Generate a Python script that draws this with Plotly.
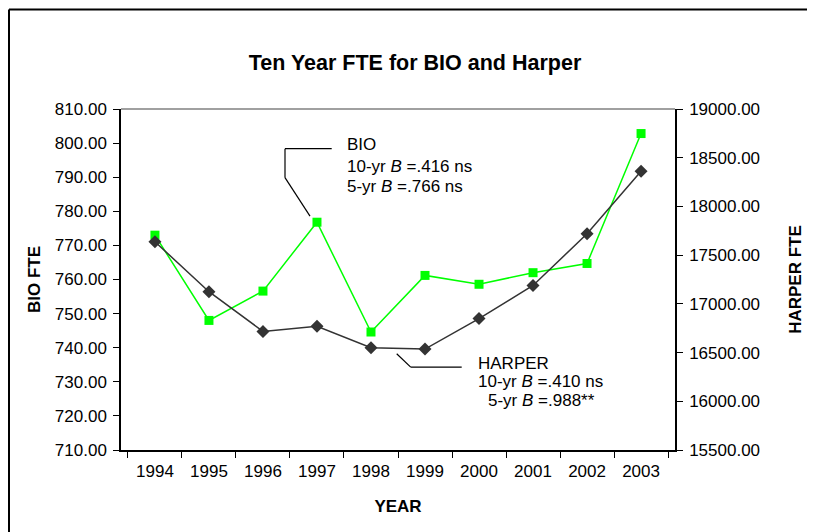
import plotly.graph_objects as go

years = ["1994", "1995", "1996", "1997", "1998", "1999", "2000", "2001", "2002", "2003"]
bio_fte = [773.0, 748.0, 756.6, 776.8, 744.6, 761.2, 758.6, 762.0, 764.7, 802.8]
harper_fte = [17638, 17125, 16717, 16769, 16550, 16536, 16849, 17189, 17719, 18360]

OFF = 8  # page body margin
W, H = 815 - OFF, 532 - OFF
# plot area in screen pixels
SL, SR, ST, SB = 121, 675, 108.6, 449.6
L, R, T, B = SL - OFF, SR - OFF, ST - OFF, SB - OFF
FONT = "Arial, Liberation Sans, sans-serif"


def px(x):
    return (x - SL) / (SR - SL)


def py(y):
    return (SB - y) / (SB - ST)


fig = go.Figure()
fig.add_trace(go.Scatter(
    x=years, y=bio_fte, name="BIO", mode="lines+markers",
    line=dict(color="#00ff00", width=1.5),
    marker=dict(symbol="square", size=9, color="#00ff00"),
))
fig.add_trace(go.Scatter(
    x=years, y=harper_fte, name="HARPER", mode="lines+markers", yaxis="y2",
    line=dict(color="#333333", width=1.5),
    marker=dict(symbol="diamond", size=10, color="#333333"),
))

tickfont = dict(family=FONT, size=17, color="#000000")
titlefont = dict(family=FONT, size=17, color="#000000")

fig.update_layout(
    width=W, height=H,
    margin=dict(l=L, r=W - R, t=T, b=H - B, pad=0),
    paper_bgcolor="white", plot_bgcolor="white",
    showlegend=False,
    title=dict(text="<b>Ten Year FTE for BIO and Harper</b>", x=px(415), xref="paper",
               xanchor="center", y=1 - (62 - OFF) / H, yanchor="middle",
               font=dict(family=FONT, size=21.5, color="#000000")),
    xaxis=dict(type="category", tickson="boundaries", ticks="outside", ticklen=6,
               tickcolor="#000000", showline=True, linecolor="#000000", linewidth=1.5,
               showgrid=False, zeroline=False, tickfont=tickfont, ticklabelstandoff=5,
               title=dict(text="<b>YEAR</b>", font=titlefont, standoff=20)),
    yaxis=dict(range=[710, 810], dtick=10, tickformat=".2f", ticks="outside", ticklen=6,
               tickcolor="#000000", showline=True, linecolor="#000000", linewidth=1.5,
               showgrid=False, zeroline=False, tickfont=tickfont, ticklabelstandoff=3,
               title=dict(text="<b>BIO FTE</b>", font=titlefont, standoff=10)),
    yaxis2=dict(range=[15500, 19000], dtick=500, tickformat=".2f", ticks="outside", ticklen=6,
                tickcolor="#000000", showline=True, linecolor="#000000", linewidth=1.5,
                showgrid=False, zeroline=False, tickfont=tickfont, overlaying="y", side="right",
                ticklabelstandoff=3,
                title=dict(text="<b>HARPER FTE</b>", font=titlefont, standoff=30)),
)

# plot-area top border (gray)
fig.add_shape(type="line", xref="paper", yref="paper", x0=0, x1=1, y0=1, y1=1,
              line=dict(color="#808080", width=1.5))
# outer chart frame (top and left)
fig.add_shape(type="line", xref="paper", yref="paper", x0=px(OFF + 1), x1=px(815), y0=py(OFF + 1), y1=py(OFF + 1),
              line=dict(color="#000000", width=2))
fig.add_shape(type="line", xref="paper", yref="paper", x0=px(OFF + 1), x1=px(OFF + 1), y0=py(OFF + 1), y1=py(532),
              line=dict(color="#000000", width=2))

# BIO leader line
for (x0, y0, x1, y1) in [(331.7, 148.3, 285, 148.3), (285, 148.3, 285, 177.3), (285, 177.3, 310, 215.7)]:
    fig.add_shape(type="line", xref="paper", yref="paper", x0=px(x0), x1=px(x1), y0=py(y0), y1=py(y1),
                  line=dict(color="#000000", width=1.2))
# HARPER leader line
for (x0, y0, x1, y1) in [(461.7, 366.7, 410.7, 366.7), (410.7, 366.7, 396.7, 353.3)]:
    fig.add_shape(type="line", xref="paper", yref="paper", x0=px(x0), x1=px(x1), y0=py(y0), y1=py(y1),
                  line=dict(color="#000000", width=1.2))

notes = [
    ("BIO", 345, 144.5),
    ("10-yr <i>B</i> =.416 ns", 345, 166),
    ("5-yr <i>B</i> =.766 ns", 345, 186),
    ("HARPER", 476, 363.5),
    ("10-yr <i>B</i> =.410 ns", 476, 381.5),
    ("5-yr <i>B</i> =.988**", 486, 400.5),
]
for text, x, y in notes:
    fig.add_annotation(text=text, xref="paper", yref="paper", x=px(x), y=py(y),
                       xanchor="left", yanchor="middle", showarrow=False,
                       font=dict(family=FONT, size=17, color="#000000"))

fig.write_html("out.html")
